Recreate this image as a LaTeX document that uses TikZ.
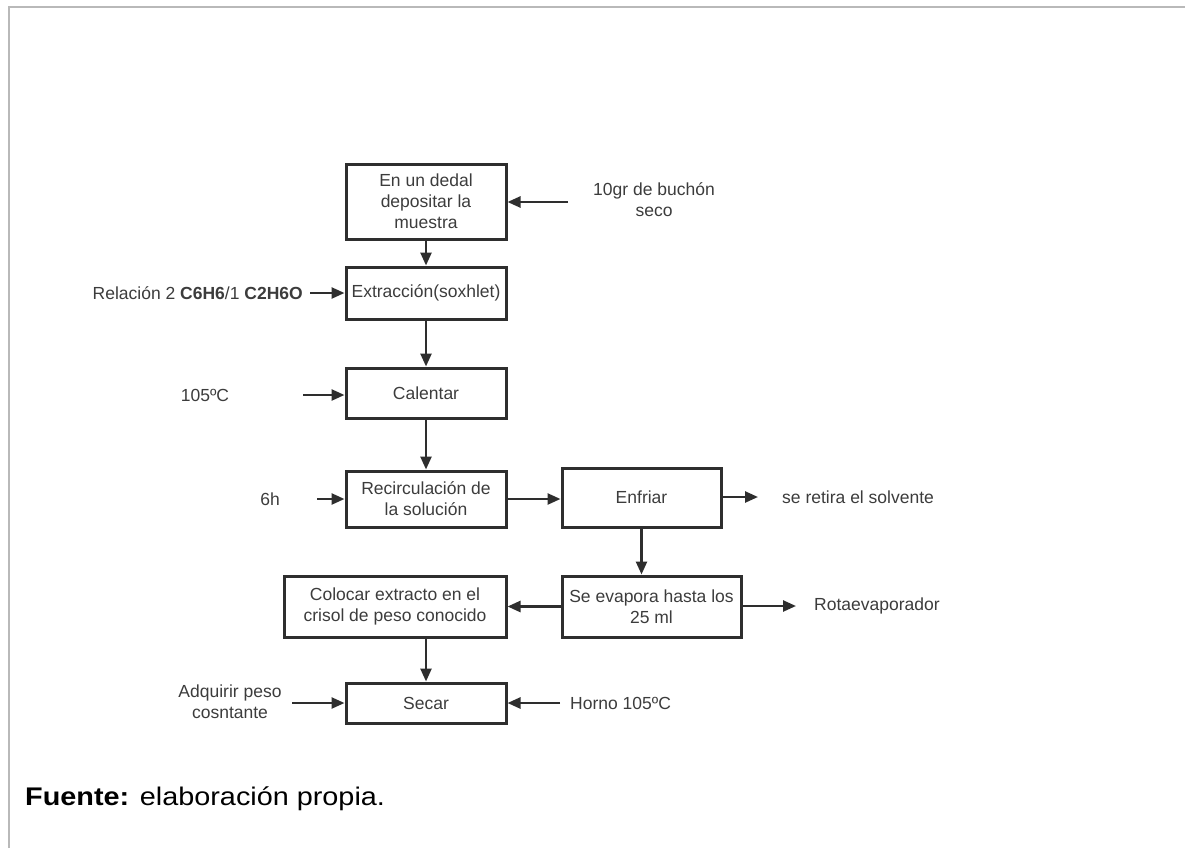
\documentclass[tikz,border=0pt]{standalone}
\usepackage{fontspec}
\setmainfont{Liberation Sans}
\newfontfamily\notefont{Liberation Sans}[FakeStretch=1.13]
\usetikzlibrary{arrows.meta}
\definecolor{ink}{HTML}{2E2E2E}
\definecolor{txt}{HTML}{3C3C3C}
\definecolor{framegray}{HTML}{B9B9B9}
\begin{document}
\begin{tikzpicture}[x=1pt,y=-1pt,
  stepbox/.style={draw=ink, line width=3pt, align=center, inner sep=0pt,
    text=txt, font=\fontsize{17.5}{21}\selectfont},
  lbl/.style={text=txt, align=center, inner sep=0pt,
    font=\fontsize{17.5}{21}\selectfont},
  flow/.style={draw=ink, line width=2.5pt, -{Triangle[length=13pt,width=11pt]}}
]
\useasboundingbox (0,0) rectangle (1185,848);
% page frame (top and left rules)
\draw[framegray, line width=2pt] (9,848) -- (9,7) -- (1185,7);

% process steps
\node[stepbox, minimum width=160pt, minimum height=75pt] (dedal) at (426,201.5)
  {En un dedal\\depositar la\\muestra};
\node[stepbox, minimum width=160pt, minimum height=52pt] (extr) at (426,293)
  {Extracción(soxhlet)};
\node[stepbox, minimum width=160pt, minimum height=50pt] (calent) at (426,393)
  {Calentar};
\node[stepbox, minimum width=160pt, minimum height=56pt] (recirc) at (426,499)
  {Recirculación de\\la solución};
\node[stepbox, minimum width=159pt, minimum height=59pt] (enfriar) at (641.5,497.5)
  {Enfriar};
\node[stepbox, minimum width=179pt, minimum height=61pt] (evap) at (651.5,606.5)
  {Se evapora hasta los\\25 ml};
\node[stepbox, minimum width=222pt, minimum height=61pt] (coloc) at (395,606.5)
  {Colocar extracto en el\\crisol de peso conocido};
\node[stepbox, minimum width=160pt, minimum height=40pt] (secar) at (426,703)
  {Secar};

% side inputs and outputs
\node[lbl] (muestra) at (654,200) {10gr de buchón\\seco};
\node[lbl, anchor=east] (relac) at (303,293)
  {Relación 2 \textbf{C6H6}/1 \textbf{C2H6O}};
\node[lbl] (temp) at (205,395) {105ºC};
\node[lbl] (tiempo) at (270,499) {6h};
\node[lbl, anchor=west] (solv) at (782,497) {se retira el solvente};
\node[lbl, anchor=west] (rota) at (814,606) {Rotaevaporador};
\node[lbl] (peso) at (230,702) {Adquirir peso\\cosntante};
\node[lbl, anchor=west] (horno) at (570,703) {Horno 105ºC};

\coordinate (inMuestra) at (568,202);
\coordinate (inRelac) at (310,293);
\coordinate (inTemp) at (303,395);
\coordinate (inTiempo) at (317,499);
\coordinate (outSolv) at (758,497);
\coordinate (outRota) at (796,606);
\coordinate (inPeso) at (292,703);
\coordinate (inHorno) at (560,703);

% main flow
\draw[flow] (dedal.south) -- (extr.north);
\draw[flow] (extr.south) -- (calent.north);
\draw[flow] (calent.south) -- (recirc.north);
\draw[flow] (recirc.east) -- (recirc.east -| enfriar.west);
\draw[flow] (enfriar.south) -- (enfriar.south |- evap.north);
\draw[flow] (evap.west) -- (coloc.east);
\draw[flow] (secar.north |- coloc.south) -- (secar.north);

% side arrows
\draw[flow] (inMuestra) -- (inMuestra -| dedal.east);
\draw[flow] (inRelac) -- (inRelac -| extr.west);
\draw[flow] (inTemp) -- (inTemp -| calent.west);
\draw[flow] (inTiempo) -- (inTiempo -| recirc.west);
\draw[flow] (outSolv -| enfriar.east) -- (outSolv);
\draw[flow] (outRota -| evap.east) -- (outRota);
\draw[flow] (inPeso) -- (inPeso -| secar.west);
\draw[flow] (inHorno) -- (inHorno -| secar.east);

% source note
\node[anchor=west, inner sep=0pt] (fuente) at (25,799)
  {\notefont\fontsize{25.5}{30}\selectfont\textbf{Fuente:} elaboración propia.};
\end{tikzpicture}
\end{document}
